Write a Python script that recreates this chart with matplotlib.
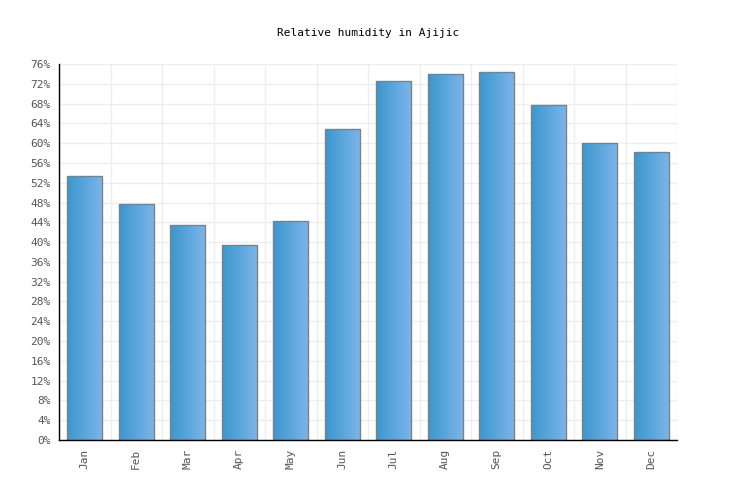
import numpy as np
import matplotlib.pyplot as plt
from matplotlib.colors import LinearSegmentedColormap

months = ['Jan', 'Feb', 'Mar', 'Apr', 'May', 'Jun', 'Jul', 'Aug', 'Sep', 'Oct', 'Nov', 'Dec']
humidity = [53.4, 47.7, 43.5, 39.4, 44.3, 62.9, 72.5, 73.9, 74.3, 67.7, 60.0, 58.2]
yticks = list(range(0, 77, 4))

plt.rcParams['font.family'] = ['DejaVu Sans Mono']

fig = plt.figure(figsize=(7.36, 5), dpi=100)
ax = fig.add_axes([59 / 736, 60 / 500, 618 / 736, 376 / 500])

x = np.arange(len(months))
bars = ax.bar(x, humidity, width=0.68, edgecolor='#808080', linewidth=1, color='none', zorder=3)

# horizontal gradient inside each bar
cmap = LinearSegmentedColormap.from_list('blu', ['#3a97cf', '#7db5e9'])
grad = np.linspace(0, 1, 64).reshape(1, -1)
for b in bars:
    x0, w, h = b.get_x(), b.get_width(), b.get_height()
    im = ax.imshow(grad, cmap=cmap, aspect='auto', extent=(x0, x0 + w, 0, h), zorder=2)
    im.set_clip_path(b)

ax.set_xlim(-0.5, len(months) - 0.5)
ax.set_ylim(0, 76)
ax.set_yticks(yticks)
ax.set_yticklabels([f'{v}%' for v in yticks])
ax.set_xticks(x)
ax.set_xticklabels(months, rotation=90)

# grid lines at category boundaries and y ticks
for b in np.arange(-0.5, len(months), 1):
    ax.axvline(b, color='#eeeeee', linewidth=1, zorder=1)
for v in yticks:
    ax.axhline(v, color='#eeeeee', linewidth=1, zorder=1)

ax.tick_params(length=0, labelsize=8, colors='#555555', pad=6)
for s in ['top', 'right']:
    ax.spines[s].set_visible(False)
for s in ['left', 'bottom']:
    ax.spines[s].set_color('black')
    ax.spines[s].set_linewidth(1)
    ax.spines[s].set_zorder(4)

fig.text(368 / 736, 1 - 33 / 500, 'Relative humidity in Ajijic', ha='center', va='center', fontsize=8)

fig.savefig('out.png', dpi=100)
